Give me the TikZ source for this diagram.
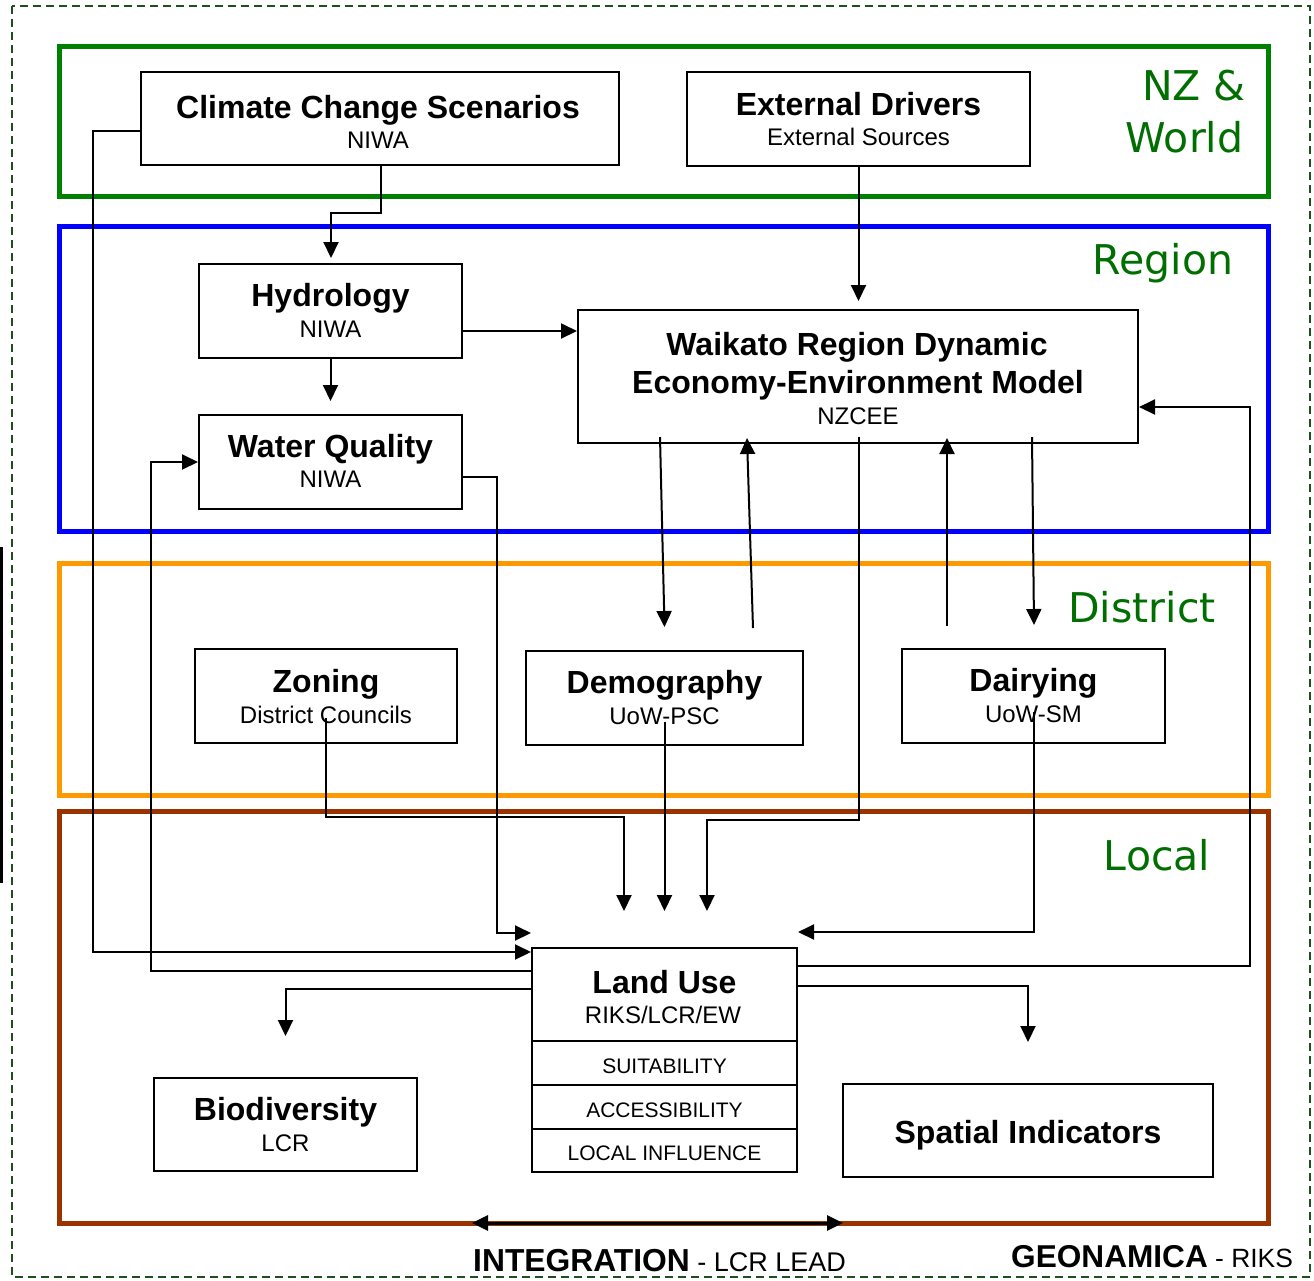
\documentclass[tikz,border=0pt]{standalone}
\usepackage{fontspec}
\setmainfont{Liberation Sans}
\newfontfamily\levelfont{DejaVu Sans}
\usetikzlibrary{arrows.meta,calc}

\definecolor{nzgreen}{RGB}{0,128,0}
\definecolor{lblgreen}{RGB}{0,110,0}
\definecolor{regblue}{RGB}{0,0,255}
\definecolor{distorange}{RGB}{255,153,0}
\definecolor{localbrown}{RGB}{153,51,0}
\definecolor{outerdash}{RGB}{30,80,30}

\begin{document}
\begin{tikzpicture}[x=1pt,y=-1pt,
  frame/.style={line width=5pt},
  box/.style={draw=black, line width=2pt, fill=white, inner sep=0pt},
  ttl/.style={anchor=base, inner sep=0pt, font=\fontsize{32}{36}\selectfont\bfseries},
  sub/.style={anchor=base, inner sep=0pt, font=\fontsize{24}{28}\selectfont},
  rowtxt/.style={anchor=base, inner sep=0pt, font=\fontsize{21}{25}\selectfont},
  lvl/.style={anchor=base, inner sep=0pt, text=lblgreen, font=\levelfont\fontsize{41}{48}\selectfont},
  arr/.style={line width=2pt, -{Triangle[length=16pt,width=15pt]}},
  dblarr/.style={line width=3pt, {Triangle[length=16pt,width=15pt]}-{Triangle[length=16pt,width=15pt]}},
]
\useasboundingbox (0,0) rectangle (1314,1280);

% outer dashed border and side bar
\draw[outerdash, line width=2pt, dash pattern=on 8pt off 5pt] (12,6) rectangle (1310,1277);
\draw[line width=3pt] (1.5,547) -- (1.5,883);

% level frames
\draw[frame, nzgreen] (59,46) rectangle (1268,196);
\draw[frame, regblue] (59,226) rectangle (1268,531);
\draw[frame, distorange] (59,563) rectangle (1268,795);
\draw[frame, localbrown] (59,811) rectangle (1268,1223);

% level labels
\node[lvl] (lnz) at (1194,100) {NZ \&};
\node[lvl] (lworld) at (1184.5,152) {World};
\node[lvl] (lregion) at (1163,274) {Region};
\node[lvl] (ldistrict) at (1142,622) {District};
\node[lvl] (llocal) at (1157,870) {Local};

% model boxes
\node[box, minimum width=478, minimum height=93] (ccs) at (380,118.5) {};
\node[ttl] (ccst) at (378,118) {Climate Change Scenarios};
\node[sub] (ccss) at (378,148) {NIWA};

\node[box, minimum width=343, minimum height=94] (ext) at (858.5,119) {};
\node[ttl] (extt) at (858.5,115) {External Drivers};
\node[sub] (exts) at (858.5,145) {External Sources};

\node[box, minimum width=263, minimum height=94] (hyd) at (330.5,311) {};
\node[ttl] (hydt) at (330.5,306) {Hydrology};
\node[sub] (hyds) at (330.5,337) {NIWA};

\node[box, minimum width=263, minimum height=94] (wq) at (330.5,462) {};
\node[ttl] (wqt) at (330.5,457) {Water Quality};
\node[sub] (wqs) at (330.5,487) {NIWA};

\node[box, minimum width=560, minimum height=133] (wr) at (858,376.5) {};
\node[ttl] (wrt1) at (857,355) {Waikato Region Dynamic};
\node[ttl] (wrt2) at (858,393) {Economy-Environment Model};
\node[sub] (wrs) at (858,424) {NZCEE};

\node[box, minimum width=262, minimum height=94] (zon) at (326,696) {};
\node[ttl] (zont) at (326,692) {Zoning};
\node[sub] (zons) at (326,723) {District Councils};

\node[box, minimum width=277, minimum height=94] (dem) at (664.5,698) {};
\node[ttl] (demt) at (664.5,693) {Demography};
\node[sub] (dems) at (664.5,724) {UoW-PSC};

\node[box, minimum width=263, minimum height=94] (dai) at (1033.5,696) {};
\node[ttl] (dait) at (1033.5,691) {Dairying};
\node[sub] (dais) at (1033.5,722) {UoW-SM};

\node[box, minimum width=265, minimum height=93] (lu) at (664.5,994.5) {};
\node[ttl] (lut) at (664.5,993) {Land Use};
\node[sub] (lus) at (663,1023) {RIKS/LCR/EW};
\node[box, minimum width=265, minimum height=44] (suit) at (664.5,1063) {};
\node[rowtxt] (suitt) at (664.5,1073) {SUITABILITY};
\node[box, minimum width=265, minimum height=44] (acc) at (664.5,1107) {};
\node[rowtxt] (acct) at (664.5,1117) {ACCESSIBILITY};
\node[box, minimum width=265, minimum height=43] (loc) at (664.5,1150.5) {};
\node[rowtxt] (loct) at (664.5,1160) {LOCAL INFLUENCE};

\node[box, minimum width=263, minimum height=93] (bio) at (285.5,1124.5) {};
\node[ttl] (biot) at (285.5,1120) {Biodiversity};
\node[sub] (bios) at (285.5,1151) {LCR};

\node[box, minimum width=370, minimum height=93] (spi) at (1028,1130.5) {};
\node[ttl] (spit) at (1028,1143) {Spatial Indicators};

% connectors
\draw[arr] (ccs.west |- 0,131) -| (93,952) -- (lu.west |- 0,952);
\draw[arr, shorten >=5pt] (ccs.south -| 381,0) |- (331,213) -- (hyd.north -| 331,0);
\draw[arr, shorten >=8pt] (ext.south) -- (wr.north -| ext.south);
\draw[arr] (hyd.east |- 0,331) -- (wr.west |- 0,331);
\draw[arr, shorten >=13pt] (hyd.south) -- (wq.north);
\draw[arr] (lu.west |- 0,971) -| (151,462) -- (wq.west);
\draw[arr] (wq.east |- 0,477) -| (497,933) -- (lu.west |- 0,933);
\draw[arr, shorten >=41pt] (lu.west |- 0,989) -| (bio.north);

\draw[arr] ($(wr.south west)+(83,-7)$) -- ($(dem.north)+(0,-23)$);
\draw[arr] ($(dem.north)+(88.5,-22)$) -- ($(wr.south west)+(170,-6)$);
\draw[arr] ($(wr.south)+(1,-7)$) |- (707,820) -- ($(lu.north)+(42.5,-36)$);
\draw[arr] ($(dai.north west)+(46,-22)$) -- ($(wr.south west)+(370,-6)$);
\draw[arr] ($(wr.south west)+(455,-7)$) -- ($(dai.north)+(0.5,-23)$);

\draw[arr] ($(dai.center)+(0.5,16)$) |- ($(lu.north east)+(0,-15)$);
\draw[arr] ($(zon.center)+(0,22)$) |- (624,817) -- ($(lu.north)+(-40.5,-36)$);
\draw[arr] ($(dem.center)+(0,24)$) -- ($(lu.north)+(0,-36)$);

\draw[arr] (lu.east |- 0,966) -| (1250,407) -- (wr.east |- 0,407);
\draw[arr, shorten >=41pt] (lu.east |- 0,986) -| (spi.north);

% integration span
\coordinate (intl) at (472,1223);
\coordinate (intr) at (843,1223);
\draw[dblarr] (intl) -- (intr);

% credits
\node[anchor=base west, inner sep=0pt] (integ) at (473,1271)
  {{\fontsize{31.8}{36}\selectfont\bfseries INTEGRATION}{\fontsize{27}{31}\selectfont\ - LCR LEAD}};
\node[anchor=base west, inner sep=0pt] (geon) at (1011,1267)
  {{\fontsize{31.6}{36}\selectfont\bfseries GEONAMICA}{\fontsize{26.4}{30}\selectfont\ - RIKS}};
\end{tikzpicture}
\end{document}
